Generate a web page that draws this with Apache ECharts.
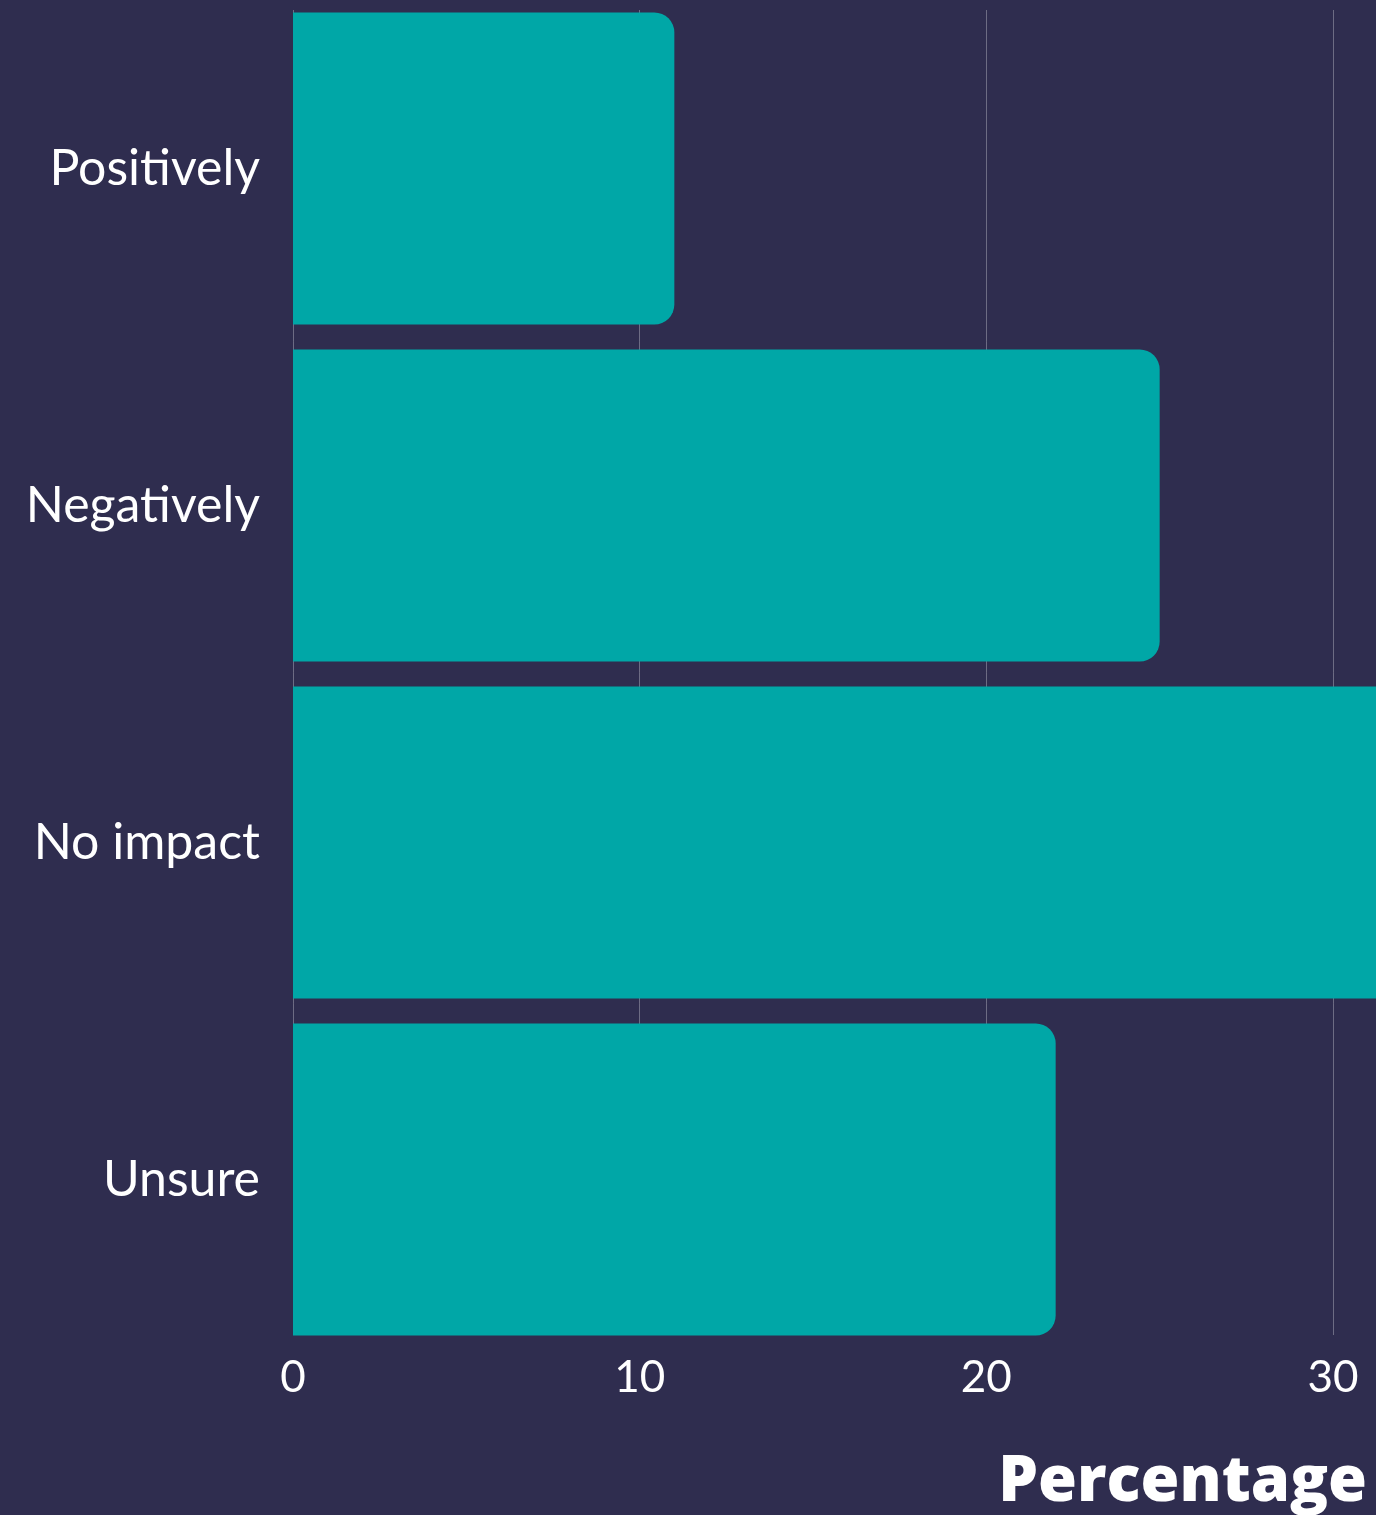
<!DOCTYPE html>
<html>
<head>
<meta charset="utf-8">
<script src="https://cdn.jsdelivr.net/npm/echarts@6/dist/echarts.min.js"></script>
<style>
  html, body { margin: 0; padding: 0; background: #2f2d4f; }
  #chart { width: 1376px; height: 1515px; }
</style>
</head>
<body>
<div id="chart"></div>
<script>
// 数据
const categories = ['Positively', 'Negatively', 'No impact', 'Unsure'];
const values = [11, 25, 33, 22];
const xTicks = [0, 10, 20, 30];
const axisTitle = 'Percentage';

const pxPerUnit = 1040 / 30; // 0 -> x=293, 30 -> x=1333
const xMax = (1376 - 293) / pxPerUnit; // 画布右边缘对应的值

// 超出右边界的柱子被截断，不画圆角
const barData = values.map(v => ({
  value: v,
  itemStyle: v > xMax ? { borderRadius: 0 } : undefined
}));

const myChart = echarts.init(document.getElementById('chart'));

const option = {
  backgroundColor: '#2f2d4f',
  animation: false,
  title: {
    text: axisTitle,
    right: 4,
    top: 1447,
    textStyle: { color: '#ffffff', fontFamily: 'Open Sans', fontWeight: 800, fontSize: 63 }
  },
  grid: [
    // 网格线用
    { left: 293, right: 0, top: 10, height: 1325 },
    // 柱子用
    { left: 293, right: 0, top: -3, height: 1351 }
  ],
  xAxis: [
    {
      type: 'value',
      gridIndex: 0,
      min: 0,
      max: xMax,
      interval: 10,
      axisLine: { show: false },
      axisTick: { show: false },
      splitLine: { show: true, lineStyle: { color: 'rgba(255,255,255,0.3)', width: 1 } },
      axisLabel: {
        color: '#ffffff',
        fontFamily: 'Lato',
        fontSize: 44,
        margin: 21,
        showMaxLabel: false,
        formatter: (v) => (xTicks.indexOf(v) >= 0 ? String(v) : '')
      }
    },
    {
      type: 'value',
      gridIndex: 1,
      min: 0,
      max: xMax,
      show: false
    }
  ],
  yAxis: [
    { type: 'value', gridIndex: 0, show: false },
    {
      type: 'category',
      gridIndex: 1,
      data: categories,
      inverse: true,
      axisLine: { show: false },
      axisTick: { show: false },
      splitLine: { show: false },
      axisLabel: {
        color: '#ffffff',
        fontFamily: 'Lato',
        fontSize: 50,
        margin: 33
      }
    }
  ],
  series: [
    {
      type: 'bar',
      xAxisIndex: 1,
      yAxisIndex: 1,
      data: barData,
      barWidth: 312,
      itemStyle: { color: '#00a7a7', borderRadius: [0, 20, 20, 0] }
    }
  ]
};

myChart.setOption(option);
</script>
</body>
</html>
